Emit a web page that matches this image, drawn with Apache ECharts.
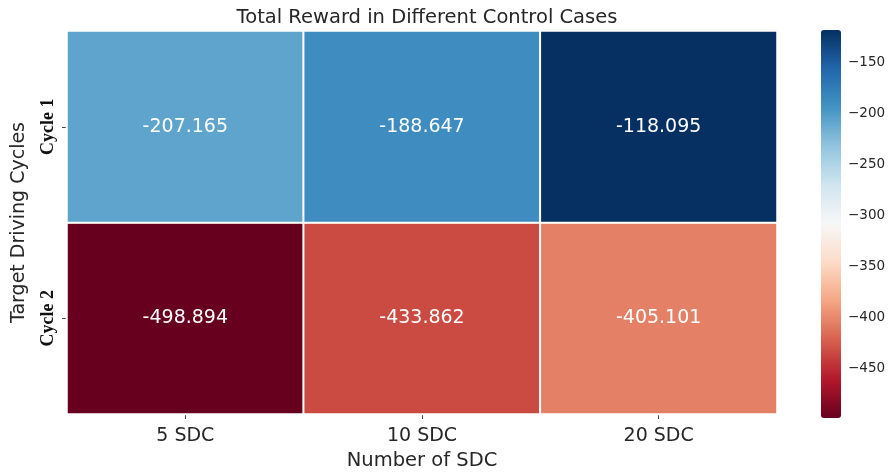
<!DOCTYPE html>
<html>
<head>
<meta charset="utf-8">
<script src="https://cdn.jsdelivr.net/npm/echarts@6/dist/echarts.min.js"></script>
<style>
html,body{margin:0;padding:0;background:#fff;}
#chart{width:892px;height:476px;}
</style>
</head>
<body>
<div id="chart"></div>
<script>
var xCategories = ['5 SDC', '10 SDC', '20 SDC'];
var yCategories = ['Cycle 2', 'Cycle 1'];
var cycle1Values = [-207.165, -188.647, -118.095];
var cycle2Values = [-498.894, -433.862, -405.101];
var colorbarTicks = [-450, -400, -350, -300, -250, -200, -150];
var rdbu = ['#67001f','#b2182b','#d6604d','#f4a582','#fddbc7','#f7f7f7','#d1e5f0','#92c5de','#4393c3','#2166ac','#053061'];

var data = [];
cycle2Values.forEach(function (v, i) { data.push([i, 0, v]); });
cycle1Values.forEach(function (v, i) { data.push([i, 1, v]); });
var all = cycle1Values.concat(cycle2Values);
var vmin = Math.min.apply(null, all), vmax = Math.max.apply(null, all);

var chart = echarts.init(document.getElementById('chart'));
chart.setOption({
  animation: false,
  backgroundColor: '#fff',
  title: {
    text: 'Total Reward in Different Control Cases',
    left: 422, top: 3, textAlign: 'center',
    textStyle: {fontFamily: 'DejaVu Sans', fontSize: 19.5, fontWeight: 'normal', color: '#262626'}
  },
  grid: [
    {left: 67, top: 31, width: 710, height: 384},
    {left: 821, top: 30, width: 20, height: 388}
  ],
  xAxis: [
    {type: 'category', data: xCategories, gridIndex: 0,
     name: 'Number of SDC', nameLocation: 'middle', nameGap: 37,
     nameTextStyle: {fontFamily: 'DejaVu Sans', fontSize: 19.5, color: '#262626'},
     axisLine: {show: false},
     axisTick: {show: true, alignWithLabel: true, length: 5, lineStyle: {color: '#444'}},
     axisLabel: {fontFamily: 'DejaVu Sans', fontSize: 19, color: '#262626', margin: 13},
     splitArea: {show: false}},
    {type: 'value', gridIndex: 1, show: false}
  ],
  yAxis: [
    {type: 'category', data: yCategories, gridIndex: 0,
     name: 'Target Driving Cycles', nameLocation: 'middle', nameGap: 38, nameRotate: 90,
     nameTextStyle: {fontFamily: 'DejaVu Sans', fontSize: 19, color: '#262626'},
     axisLine: {show: false},
     axisTick: {show: true, alignWithLabel: true, length: 5, lineStyle: {color: '#444'}},
     axisLabel: {fontFamily: 'Liberation Serif', fontWeight: 'bold', fontSize: 18, color: '#111', rotate: 90, margin: 10}},
    {type: 'value', gridIndex: 1, position: 'right', min: vmin, max: vmax,
     axisLine: {show: false}, splitLine: {show: false},
     axisTick: {show: true, length: 4, customValues: colorbarTicks, lineStyle: {color: '#444'}},
     axisLabel: {customValues: colorbarTicks, fontFamily: 'DejaVu Sans', fontSize: 13.5, color: '#262626', margin: 7,
       formatter: function (v) { return String(v).replace('-', '\u2212'); }}}
  ],
  visualMap: {
    type: 'continuous', seriesIndex: 0, min: vmin, max: vmax,
    calculable: false, left: 821, top: 30, itemWidth: 20, itemHeight: 388, padding: 0,
    text: null, showLabel: false,
    inRange: {color: rdbu}
  },
  series: [{
    type: 'heatmap', xAxisIndex: 0, yAxisIndex: 0, data: data,
    itemStyle: {borderColor: '#fff', borderWidth: 2},
    label: {show: true, fontFamily: 'DejaVu Sans', fontSize: 19, color: '#fff',
      formatter: function (p) { return p.value[2].toFixed(3); }},
    emphasis: {disabled: true}
  }]
});
</script>
</body>
</html>
